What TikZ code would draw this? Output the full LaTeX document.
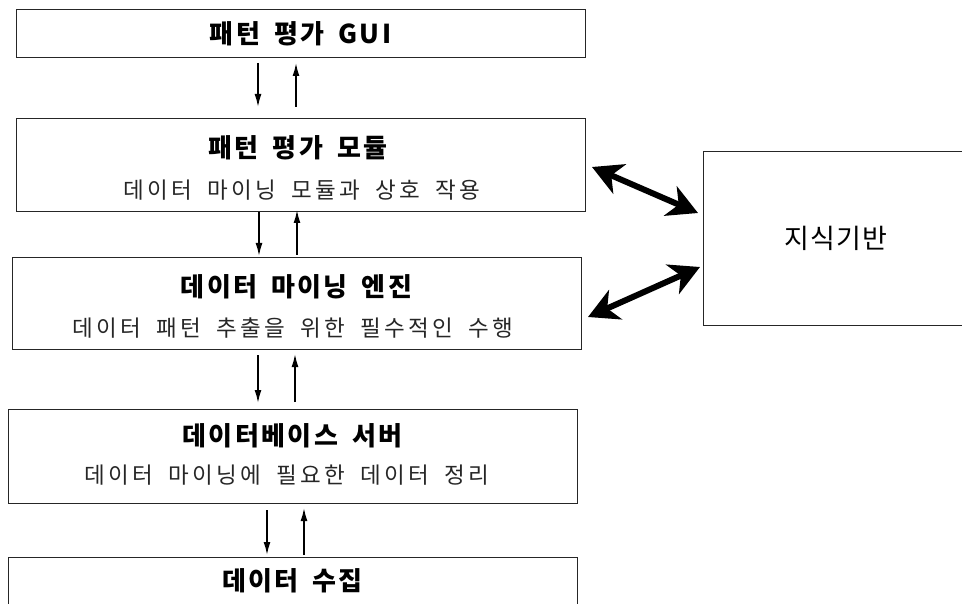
\documentclass[tikz,border=0pt]{standalone}
\usepackage{fontspec}
\setmainfont{Noto Sans CJK KR}
\newfontfamily\ttlfont[LetterSpace=9,WordSpace=1.7]{Noto Sans CJK KR}
\newfontfamily\subfont[LetterSpace=14,WordSpace=1.9]{Noto Sans CJK KR}
\newfontfamily\kbfont[LetterSpace=5]{Noto Sans CJK KR}
\usetikzlibrary{arrows.meta}
\tikzset{
  box/.style={draw=black!85, line width=0.9pt, rectangle, inner sep=0pt, minimum width=569pt},
  ttl/.style={font=\ttlfont\bfseries\fontsize{26}{29}\selectfont, inner sep=0pt},
  sub/.style={font=\subfont\fontsize{22.5}{26}\selectfont, text=black!85, inner sep=0pt},
  thin arrow/.style={line width=1.6pt, -{Latex[length=13pt,width=7pt]}},
  thick arrow/.style={line width=6pt, {Stealth[length=30pt,width=32pt,inset=9pt]}-{Stealth[length=30pt,width=32pt,inset=9pt]}},
}
\begin{document}
\begin{tikzpicture}[x=1pt,y=-1pt]
\useasboundingbox (0,0) rectangle (962,604);
\clip (0,0) rectangle (962,604);
% boxes
\node[box, minimum height=48pt] (b1) at (300.5,33) {};
\node[box, minimum height=93pt] (b2) at (300.5,164.5) {};
\node[box, minimum height=92pt] (b3) at (296.5,303) {};
\node[box, minimum height=94pt] (b4) at (292.5,456) {};
\node[box, minimum height=94pt] (b5) at (292.5,604) {};
\node[draw=black!85, line width=0.9pt, rectangle, minimum width=266pt, minimum height=174pt] (kb) at (836,238) {};
% texts
\node[ttl] (t1) at (300.5,34) {패턴 평가 GUI};
\node[ttl] (t2) at (298,148) {패턴 평가 모듈};
\node[sub] (s2) at (302,190) {데이터 마이닝 모듈과 상호 작용};
\node[ttl] (t3) at (296.5,287) {데이터 마이닝 엔진};
\node[sub] (s3) at (293,328) {데이터 패턴 추출을 위한 필수적인 수행};
\node[ttl] (t4) at (292.5,436) {데이터베이스 서버};
\node[sub] (s4) at (287,475) {데이터 마이닝에 필요한 데이터 정리};
\node[ttl] (t5) at (292.5,581) {데이터 수집};
\node[font=\kbfont\fontsize{27}{31}\selectfont, inner sep=0pt] (tk) at (836,238) {지식기반};
% arrow end points
\coordinate (a1d) at (258,63);  \coordinate (a1e) at (258,107);
\coordinate (a1u) at (296,107); \coordinate (a1v) at (296,63);
\coordinate (a2d) at (259,212); \coordinate (a2e) at (259,256);
\coordinate (a2u) at (297,255); \coordinate (a2v) at (297,210);
\coordinate (a3d) at (258,355); \coordinate (a3e) at (258,403);
\coordinate (a3u) at (295,402); \coordinate (a3v) at (295,354);
\coordinate (a4d) at (267,510); \coordinate (a4e) at (267,555);
\coordinate (a4u) at (304,555); \coordinate (a4v) at (304,508);
\coordinate (ka1) at (592,167); \coordinate (ka2) at (698,213);
\coordinate (kb1) at (588,317); \coordinate (kb2) at (700,267);
% thin arrows
\draw[thin arrow] (a1d) -- (a1e);
\draw[thin arrow] (a1u) -- (a1v);
\draw[thin arrow] (a2d) -- (a2e);
\draw[thin arrow] (a2u) -- (a2v);
\draw[thin arrow] (a3d) -- (a3e);
\draw[thin arrow] (a3u) -- (a3v);
\draw[thin arrow] (a4d) -- (a4e);
\draw[thin arrow] (a4u) -- (a4v);
% thick arrows
\draw[thick arrow] (ka1) -- (ka2);
\draw[thick arrow] (kb1) -- (kb2);
\end{tikzpicture}
\end{document}
